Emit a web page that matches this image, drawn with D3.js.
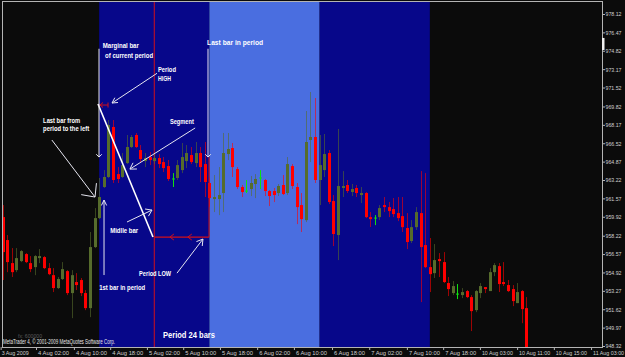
<!DOCTYPE html>
<html><head><meta charset="utf-8">
<script src="https://cdn.jsdelivr.net/npm/d3@7"></script>
<style>html,body{margin:0;padding:0;background:#0b0b0b;overflow:hidden}</style>
</head><body><svg id="c" width="625" height="357"></svg>
<script>
// ---------- DATA (hourly bars) ----------
const open = [959.89,957.83,955.76,955.13,955.94,956.57,955.76,955.40,956.21,956.30,955.31,954.68,953.52,954.33,955.04,953.07,954.06,954.24,953.07,951.72,957.20,959.80,962.59,963.49,967.98,963.75,963.49,964.74,966.18,967.26,965.91,964.92,965.28,964.92,965.19,964.83,964.47,963.31,963.40,964.11,964.92,965.46,964.74,965.64,964.65,962.95,961.51,961.51,962.05,965.55,966.09,964.20,962.59,962.23,962.41,962.86,963.40,963.22,962.23,962.23,962.05,962.77,962.05,964.47,962.59,960.97,959.62,966.81,967.08,963.22,964.11,965.64,961.33,958.28,962.50,962.77,962.14,962.50,961.87,962.05,959.89,959.80,959.89,960.97,960.79,960.61,960.25,959.98,958.91,957.74,958.99,960.25,957.38,955.40,954.86,956.12,955.85,953.97,953.07,952.98,952.89,953.25,952.71,951.54,953.07,953.61,953.25,954.95,955.49,954.06,953.79,953.43,952.17,953.25,951.72];
const high = [960.97,958.28,957.11,957.11,956.93,956.66,956.39,956.48,957.02,956.39,955.76,955.31,954.51,955.85,955.13,955.13,954.86,954.42,953.34,958.55,960.70,963.40,964.11,968.60,968.60,964.38,965.64,967.26,967.26,967.44,966.36,965.64,965.73,965.55,965.55,965.28,965.01,963.84,965.01,966.54,966.36,966.18,966.63,966.18,966.63,963.40,963.67,964.38,967.44,967.44,966.54,964.38,962.77,963.22,963.58,963.75,964.11,963.31,962.32,962.50,962.86,963.67,965.28,964.65,962.95,962.05,969.41,971.12,970.58,967.26,967.35,965.91,961.87,967.80,964.02,963.22,962.86,962.77,962.59,962.14,960.34,960.07,960.97,961.69,961.24,961.60,961.69,961.69,960.25,959.62,960.79,964.02,963.84,958.01,957.47,956.66,956.75,954.51,954.15,953.88,953.52,953.34,952.89,953.34,953.97,953.61,955.31,955.76,955.76,955.85,954.24,953.79,953.97,953.34,952.71];
const low = [954.24,954.95,954.51,954.95,955.85,955.76,954.95,954.68,955.76,955.22,954.68,953.16,953.43,954.24,952.89,950.82,953.34,952.80,951.54,950.91,957.11,959.71,962.50,963.40,962.95,962.95,963.40,964.65,966.09,966.09,964.83,964.38,964.56,964.65,964.29,963.93,963.13,962.59,963.22,963.84,964.29,964.65,964.38,963.04,961.69,960.79,960.34,960.07,960.34,965.01,963.49,962.41,961.69,962.05,961.78,961.60,962.41,961.78,960.88,961.24,961.78,961.87,961.87,962.41,959.26,958.55,959.44,964.83,962.95,960.97,963.49,961.06,957.29,956.03,961.69,962.05,961.78,961.69,961.15,959.80,959.00,959.17,959.62,960.34,959.89,959.89,959.53,958.55,957.02,957.56,958.73,952.26,955.31,953.16,954.42,954.51,953.97,952.80,952.89,952.53,952.62,952.62,949.66,951.36,952.62,953.07,953.25,954.59,953.16,953.70,953.16,951.90,952.17,950.37,947.80];
const close = [956.75,955.85,954.95,956.21,956.84,955.85,955.22,956.39,956.39,955.31,954.77,953.52,954.33,955.22,953.07,954.68,953.79,953.07,951.72,957.20,959.80,961.69,963.49,968.16,963.22,963.31,964.56,966.18,967.08,966.18,965.10,965.19,965.01,965.19,964.65,964.29,963.31,963.31,964.56,965.28,965.64,964.83,965.64,964.38,963.04,961.60,961.69,961.87,965.64,966.00,964.38,962.59,962.14,962.23,962.95,963.31,963.40,962.23,961.78,961.87,962.68,961.96,964.65,962.68,960.79,959.71,966.63,967.08,963.22,964.56,965.55,961.24,958.37,962.68,962.68,962.23,962.41,962.05,962.05,959.89,959.71,959.80,960.70,960.79,960.43,960.16,959.80,958.99,957.65,958.99,960.34,957.20,955.40,954.77,956.03,955.94,954.06,953.43,953.70,952.98,953.16,952.71,951.45,953.25,953.70,953.43,954.95,955.58,953.88,953.88,953.25,952.35,953.16,951.63,947.90];

const yTickLabels = ["978.12","976.47","974.82","973.17","971.52","969.82","968.17","966.52","964.87","963.22","961.57","959.92","958.22","956.57","954.92","953.27","951.62","949.97","948.32"];
const xTickLabels = ["3 Aug 2009","4 Aug 02:00","4 Aug 10:00","4 Aug 18:00","5 Aug 02:00","5 Aug 10:00","5 Aug 18:00","6 Aug 02:00","6 Aug 10:00","6 Aug 18:00","7 Aug 02:00","7 Aug 10:00","7 Aug 18:00","10 Aug 03:00","10 Aug 11:00","10 Aug 15:00","11 Aug 03:00"];
const xTickBars = [-0.45,7.25,15.5,23.4,31.4,39.3,47.3,55.4,63.4,71.7,79.8,88.0,95.9,103.9,112.0,120.0,128.1];
const periodEdges = [21,45,69,93];           // bar indices where 24-bar periods begin/end
const periodKinds = ["current","next","other"];
const middleBar = 33, periodHigh = 969.95, periodLow = 958.10;

// ---------- LAYOUT ----------
const svg = d3.select("#c");
const L = 2, R = 603, T = 1, B = 347;
const x = d3.scaleLinear().domain([0,114]).range([2.7,526.3]);
const y = d3.scaleLinear().domain([948.32,978.12]).range([346,14]);
const colDark = "#07078a", colLight = "#4a6ee0";
const FONT = "Liberation Sans, Arial, sans-serif";

svg.append("rect").attr("width",625).attr("height",357).attr("fill","#0b0b0b");
svg.append("defs").append("clipPath").attr("id","clip")
  .append("rect").attr("x",L).attr("y",T).attr("width",R-L).attr("height",B-T);
const plot = svg.append("g").attr("clip-path","url(#clip)");

// period bands
plot.selectAll("rect.band").data(periodKinds).join("rect")
  .attr("x",(d,i)=>x(periodEdges[i])).attr("width",(d,i)=>x(periodEdges[i+1])-x(periodEdges[i]))
  .attr("y",T).attr("height",B-T)
  .attr("fill",(d,i)=>i===1?colLight:colDark);

// red middle-bar line (background)
plot.append("line").attr("x1",x(middleBar)).attr("x2",x(middleBar)).attr("y1",T).attr("y2",B)
  .attr("stroke","#d0101a").attr("stroke-width",1);

// candles
const bars = d3.range(open.length).map(i=>({i,o:open[i],h:high[i],l:low[i],c:close[i]}));
const bull="#566c2c", bear="#ff0000", doji="#10e010";
const cg = plot.append("g");
bars.forEach(b=>{
  const cx = Math.round(x(b.i))+0.5;
  const isDoji = b.o===b.c, up = b.c>b.o;
  const col = isDoji?doji:(up?bull:bear);
  cg.append("line").attr("x1",cx).attr("x2",cx).attr("y1",y(b.h)).attr("y2",y(b.l))
    .attr("stroke",col).attr("stroke-opacity",isDoji?1:0.6).attr("stroke-width",1);
  if(isDoji){
    cg.append("line").attr("x1",cx-1.5).attr("x2",cx+1.5).attr("y1",y(b.o)).attr("y2",y(b.o))
      .attr("stroke",doji).attr("stroke-width",1);
  } else {
    const top=y(Math.max(b.o,b.c)), bot=y(Math.min(b.o,b.c));
    cg.append("rect").attr("x",cx-1.5).attr("width",3).attr("y",top).attr("height",Math.max(1,bot-top))
      .attr("fill",col);
  }
});

// ---------- annotations ----------
const ann = svg.append("g");
function seg(a,b,col,w){ann.append("line").attr("x1",x(a[0])).attr("y1",y(a[1])).attr("x2",x(b[0])).attr("y2",y(b[1]))
  .attr("stroke",col).attr("stroke-width",w||1);}
function arrow(a,b,col,len,ang){
  seg(a,b,col,1);
  const x1=x(a[0]),y1=y(a[1]),x2=x(b[0]),y2=y(b[1]);
  const t=Math.atan2(y2-y1,x2-x1);
  [-1,1].forEach(s=>ann.append("line").attr("x1",x2).attr("y1",y2)
    .attr("x2",x2-len*Math.cos(t+s*ang)).attr("y2",y2-len*Math.sin(t+s*ang))
    .attr("stroke",col).attr("stroke-width",1));
}
const wc="#e6e6f0";
// red period low / high markers
seg([middleBar,periodLow],[44.92,periodLow],"#d0101a",1.2);
seg([44.92,965.28],[44.92,periodLow],"#d0101a",1);
[36.4,40.3].forEach(i=>{
  const px=x(i),py=y(periodLow);
  ann.append("polyline").attr("points",`${px+4},${py-3} ${px},${py} ${px+4},${py+3}`)
    .attr("fill","none").attr("stroke","#d0101a");
});
seg([20.97,periodHigh],[22.93,periodHigh],"#d0101a",1);
(function(){const px=x(20.97)+1,py=y(periodHigh);
  ann.append("polyline").attr("points",`${px+3},${py-2.5} ${px},${py} ${px+3},${py+2.5}`).attr("fill","none").attr("stroke","#d0101a");
  ann.append("line").attr("x1",x(22.93)).attr("x2",x(22.93)).attr("y1",py-2.5).attr("y2",py+2.5).attr("stroke","#d0101a");})();

// white segment from period high to low
seg([20.75,970.04],[32.72,958.10],"#ffffff",1.6);
// pointers
arrow([20.97,975.0],[20.97,965.28],wc,4,Math.PI/4);
arrow([44.7,975.0],[44.7,965.28],wc,4,Math.PI/4);
arrow([33.6,972.8],[23.8,970.13],wc,6,0.5);
arrow([10.7,966.81],[20.1,961.69],wc,14,0.75);
arrow([41.9,967.89],[27.7,964.2],wc,7,0.55);
arrow([27.06,959.45],[32.5,960.52],wc,7,0.6);
arrow([37.95,954.86],[43.6,957.92],wc,7,0.55);
arrow([22.06,954.69],[22.06,961.42],wc,6,0.45);

// texts
const texts = [
 ["Marginal bar",21.8,975.07,36],["of current period",22.3,974.17,48],
 ["Period",33.8,972.91,18],["HIGH",33.8,972.11,13],
 ["Last bar in period",44.5,975.34,56],
 ["Last bar from",8.8,968.33,37],["period to the left",8.8,967.62,46],
 ["Segment",36.4,968.25,24],["Midlle bar",23.4,958.46,28],
 ["Period LOW",29.7,954.60,32],["1st bar in period",21.0,953.34,46],
 ["Period 24 bars",34.9,949.03,52]
];
texts.forEach(t=>ann.append("text").attr("x",x(t[1])).attr("y",y(t[2])).text(t[0])
  .attr("fill","#ffffff").attr("font-family",FONT)
  .attr("font-weight","bold").attr("font-size",t[0]==="Period 24 bars"?8.5:7.5)
  .attr("textLength",t[3]).attr("lengthAdjust","spacingAndGlyphs"));

ann.append("text").attr("x",18).attr("y",338).text("fx: 600000").attr("fill","#5a5a5a")
  .attr("font-family",FONT).attr("font-size",6)
  .attr("textLength",24).attr("lengthAdjust","spacingAndGlyphs");
ann.append("text").attr("x",3).attr("y",343.5).text("MetaTrader 4, \u00a9 2001-2009 MetaQuotes Software Corp.")
  .attr("fill","#e8e8e8").attr("font-family",FONT).attr("font-size",6.5)
  .attr("textLength",112).attr("lengthAdjust","spacingAndGlyphs");

// frame
svg.append("rect").attr("x",L+0.5).attr("y",T+0.5).attr("width",R-L-1).attr("height",B-T)
  .attr("fill","none").attr("stroke","#b4b4b4").attr("stroke-width",1);

// axes
const ya = svg.append("g").attr("transform",`translate(${R-0.5},0)`)
  .call(d3.axisRight(y).tickValues(yTickLabels.map(Number)).tickFormat((d,i)=>yTickLabels[i]).tickSize(2.5).tickPadding(0.5));
ya.select(".domain").remove();
ya.selectAll("line").attr("stroke","#b4b4b4");
ya.selectAll("text").attr("fill","#d0d0d0").attr("font-family",FONT)
  .attr("font-size",5.8).attr("textLength",16).attr("lengthAdjust","spacingAndGlyphs");

const xa = svg.append("g").attr("transform",`translate(0,${B})`)
  .call(d3.axisBottom(x).tickValues(xTickBars).tickFormat((d,i)=>xTickLabels[i]).tickSize(3).tickPadding(1));
xa.select(".domain").remove();
xa.selectAll("line").attr("stroke","#b4b4b4");
xa.selectAll("text").attr("fill","#d0d0d0").attr("font-family",FONT)
  .attr("font-size",5.5).attr("text-anchor","start").attr("x",(d,i)=>i===0?0.5:1.5).attr("dy","0.75em")
  .attr("textLength",(d,i)=>i===0?27:31).attr("lengthAdjust","spacingAndGlyphs");

// current price marker on scale
svg.append("rect").attr("x",R-1).attr("width",2.5).attr("y",y(975.97)).attr("height",y(974.89)-y(975.97)).attr("fill","#f0f0f0");
</script></body></html>
